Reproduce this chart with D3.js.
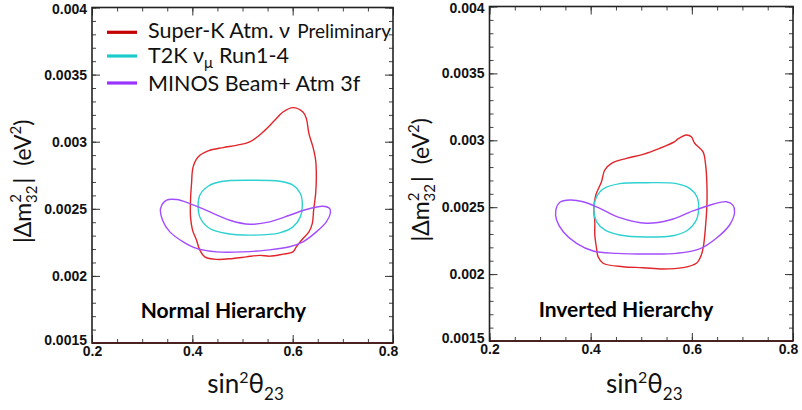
<!DOCTYPE html>
<html>
<head>
<meta charset="utf-8">
<script src="https://cdn.jsdelivr.net/npm/d3@7"></script>
<style>
body { margin: 0; background: #fff; }
</style>
</head>
<body>
<div id="container"></div>
<script>
const width = 802;
const height = 410;

// axis ticks
const xTicks = [0.2, 0.4, 0.6, 0.8];
const yTicks = [0.0015, 0.002, 0.0025, 0.003, 0.0035, 0.004];
const hierarchyLabels = ["Normal Hierarchy", "Inverted Hierarchy"];

// contours, [sin^2 theta23, |dm^2_32|]
const skNormal = [
  [0.6006, 0.003254], [0.6205, 0.003221], [0.6273, 0.003172], [0.6324, 0.00306],
  [0.6404, 0.002961], [0.6458, 0.002862], [0.6472, 0.002737], [0.6458, 0.002614],
  [0.6418, 0.00249], [0.6392, 0.002391], [0.6324, 0.002328], [0.6205, 0.002279],
  [0.6074, 0.002217], [0.6006, 0.002179], [0.5807, 0.002162], [0.5542, 0.002147],
  [0.5343, 0.002153], [0.5079, 0.002142], [0.4812, 0.00213], [0.4482, 0.002123],
  [0.4249, 0.002142], [0.4149, 0.002192], [0.4084, 0.002266], [0.4004, 0.002341],
  [0.3964, 0.00244], [0.3964, 0.002564], [0.3984, 0.002688], [0.4016, 0.002812],
  [0.4115, 0.002886], [0.4314, 0.002931], [0.4613, 0.002956], [0.488, 0.002973],
  [0.5144, 0.002998], [0.5409, 0.003072], [0.5642, 0.003159], [0.5807, 0.003221]
];
const t2kNormal = [
  [0.5144, 0.002713], [0.5741, 0.002705], [0.6006, 0.002676], [0.6153, 0.002614],
  [0.6193, 0.002527], [0.6153, 0.00244], [0.6006, 0.002365], [0.5741, 0.002321],
  [0.521, 0.002304], [0.4681, 0.002316], [0.4348, 0.002353], [0.4163, 0.002428],
  [0.4115, 0.002514], [0.4149, 0.002601], [0.4314, 0.002668], [0.4581, 0.002703]
];
const minosNormal = [
  [0.3367, 0.002502], [0.3487, 0.002564], [0.3686, 0.002569], [0.395, 0.002539],
  [0.4348, 0.002477], [0.4746, 0.002415], [0.5144, 0.002385], [0.5542, 0.002403],
  [0.594, 0.002452], [0.6273, 0.002495], [0.6603, 0.002519], [0.6736, 0.002502],
  [0.675, 0.002465], [0.6671, 0.002403], [0.6472, 0.002328], [0.6205, 0.002254],
  [0.594, 0.002217], [0.5477, 0.002192], [0.5011, 0.002179], [0.4482, 0.002179],
  [0.4084, 0.002205], [0.3817, 0.002254], [0.3552, 0.002328], [0.3407, 0.002415]
];
const skInverted = [
  [0.5892, 0.00304], [0.599, 0.003027], [0.6056, 0.002978], [0.622, 0.002915],
  [0.6273, 0.002815], [0.6298, 0.002666], [0.6298, 0.002516], [0.6273, 0.002367],
  [0.6233, 0.002217], [0.6188, 0.002143], [0.6089, 0.002081], [0.5825, 0.002048],
  [0.543, 0.002038], [0.5035, 0.002048], [0.4641, 0.002055], [0.4246, 0.002081],
  [0.4147, 0.00213], [0.4116, 0.002193], [0.4082, 0.002292], [0.4082, 0.002392],
  [0.4062, 0.002492], [0.4102, 0.002591], [0.4214, 0.002691], [0.4279, 0.002778],
  [0.4412, 0.002828], [0.4708, 0.002865], [0.5035, 0.002895], [0.5365, 0.00294],
  [0.5661, 0.00299], [0.5726, 0.00301]
];
const t2kInverted = [
  [0.5102, 0.002683], [0.5694, 0.002676], [0.5957, 0.002641], [0.6101, 0.002578],
  [0.6135, 0.002492], [0.6089, 0.002404], [0.5923, 0.00233], [0.5627, 0.002287],
  [0.5102, 0.002277], [0.4576, 0.002292], [0.428, 0.00233], [0.4116, 0.002392],
  [0.4062, 0.002479], [0.4102, 0.002566], [0.4246, 0.002636], [0.4576, 0.002676]
];
const minosInverted = [
  [0.3312, 0.002479], [0.3391, 0.002537], [0.3589, 0.002554], [0.3851, 0.002541],
  [0.4181, 0.002492], [0.4576, 0.002422], [0.5102, 0.00238], [0.5562, 0.002404],
  [0.6022, 0.002472], [0.6417, 0.002522], [0.6681, 0.002541], [0.6812, 0.002516],
  [0.6845, 0.002462], [0.6746, 0.002367], [0.6484, 0.002268], [0.6154, 0.002188],
  [0.5694, 0.002155], [0.5168, 0.00215], [0.451, 0.002155], [0.4049, 0.002173],
  [0.3721, 0.00223], [0.3457, 0.002317], [0.3326, 0.002404]
];

const colors = {sk: "#e0262b", t2k: "#2fd0d0", minos: "#a24dff"};
const legendColors = {sk: "#c40000", t2k: "#1ccccc", minos: "#9933ff"};

const panels = [
  {x0: 92, x1: 393, y0: 7.5, y1: 343, label: hierarchyLabels[0],
   series: [["sk", skNormal], ["t2k", t2kNormal], ["minos", minosNormal]]},
  {x0: 489.5, x1: 793, y0: 6.5, y1: 341, label: hierarchyLabels[1],
   series: [["sk", skInverted], ["t2k", t2kInverted], ["minos", minosInverted]]}
];

const svg = d3.select("div#container")
  .append("svg")
  .attr("width", width)
  .attr("height", height)
  .attr("viewBox", [0, 0, width, height]);

const tickFont = "bold 14px 'Liberation Sans', Arial, sans-serif";
const textFont = "Lato, 'Open Sans', sans-serif";

const xMinor = d3.range(0.2, 0.8001, 0.05);
const yMinor = d3.range(0.0015, 0.00401, 0.0001);

panels.forEach((p, i) => {
  const x = d3.scaleLinear().domain([0.2, 0.8]).range([p.x0, p.x1]);
  const y = d3.scaleLinear().domain([0.0015, 0.004]).range([p.y1, p.y0]);
  const g = svg.append("g");

  const axes = [
    [d3.axisBottom(x), `translate(0,${p.y1})`, xTicks, xMinor, true],
    [d3.axisTop(x), `translate(0,${p.y0})`, xTicks, xMinor, false],
    [d3.axisLeft(y), `translate(${p.x0},0)`, yTicks, yMinor, true],
    [d3.axisRight(y), `translate(${p.x1},0)`, yTicks, yMinor, false]
  ];
  axes.forEach(([ax, tr, major, minor, labels]) => {
    g.append("g").attr("transform", tr)
      .call(ax.tickValues(minor).tickSize(-4).tickSizeOuter(0).tickFormat(""))
      .call(s => s.select(".domain").remove())
      .call(s => s.selectAll("line").attr("stroke", "#444"));
    const axG = g.append("g").attr("transform", tr)
      .call(ax.tickValues(major).tickSize(-8).tickSizeOuter(0)
        .tickPadding(labels ? (major === xTicks ? 3 : 5) : 0)
        .tickFormat(labels ? d => String(+d.toPrecision(4)) : ""))
      .call(s => s.select(".domain").remove())
      .call(s => s.selectAll("line").attr("stroke", "#333"));
    axG.selectAll("text").style("font", tickFont).attr("fill", "#111");
    if (labels && major === yTicks) {
      // nudge the end labels so they stay inside and clear of the x labels
      axG.selectAll("text")
        .attr("dy", d => d === 0.0015 ? "0.1em" : d === 0.004 ? "0.42em" : "0.32em");
    }
    if (labels && major === xTicks) {
      axG.selectAll("text").attr("dx", d => d === 0.8 ? -5 : 0);
    }
  });

  g.append("rect")
    .attr("x", p.x0).attr("y", p.y0)
    .attr("width", p.x1 - p.x0).attr("height", p.y1 - p.y0)
    .attr("fill", "none").attr("stroke", "#222").attr("stroke-width", 1.6);
  g.append("line")
    .attr("x1", p.x0).attr("x2", p.x1).attr("y1", p.y1).attr("y2", p.y1)
    .attr("stroke", "#4a1515").attr("stroke-width", 1.6);

  const line = d3.line()
    .x(d => x(d[0])).y(d => y(d[1]))
    .curve(d3.curveCatmullRomClosed.alpha(0.5));

  g.selectAll("path.contour")
    .data(p.series)
    .join("path")
    .attr("class", "contour")
    .attr("d", d => line(d[1]))
    .attr("fill", "none")
    .attr("stroke", d => colors[d[0]])
    .attr("stroke-width", 1.4);

  // hierarchy label
  g.append("text")
    .attr("x", x(0.462) + (i ? 4 : 0)).attr("y", y(0.00169) + (i ? 1 : 0))
    .attr("text-anchor", "middle")
    .style("font", `bold 21px ${textFont}`)
    .text(p.label);

  // x title
  const xt = g.append("text")
    .attr("x", x(0.5) + 3).attr("y", 393)
    .attr("text-anchor", "middle")
    .style("font", `26px ${textFont}`)
    .attr("fill", "#111");
  xt.append("tspan").text("sin");
  xt.append("tspan").attr("dy", -10).style("font-size", "16px").text("2");
  xt.append("tspan").attr("dy", 10).text("θ");
  xt.append("tspan").attr("dy", 7).style("font-size", "17px").text("23");

  // y title
  const cy = (p.y0 + p.y1) / 2 + 6;
  const yt = g.append("text")
    .attr("transform", `translate(${p.x0 - 61},${cy}) rotate(-90)`)
    .attr("text-anchor", "middle")
    .style("font", `23px ${textFont}`)
    .attr("fill", "#111");
  yt.append("tspan").text("|Δm");
  yt.append("tspan").attr("dy", -10).style("font-size", "15px").text("2");
  yt.append("tspan").attr("dx", -9).attr("dy", 16).style("font-size", "15px").text("32");
  yt.append("tspan").attr("dx", 2).attr("dy", -6).text("|");
  yt.append("tspan").attr("dx", 12).text("(eV");
  yt.append("tspan").attr("dy", -10).style("font-size", "15px").text("2");
  yt.append("tspan").attr("dy", 10).text(")");

  // legend on left panel
  if (i === 0) {
    const legendRows = [["sk", 32.3, 38], ["t2k", 56, 63], ["minos", 83, 91]];
    legendRows.forEach(([k, ly, ty]) => {
      g.append("line")
        .attr("x1", 107).attr("x2", 137).attr("y1", ly).attr("y2", ly)
        .attr("stroke", legendColors[k]).attr("stroke-width", 3.2);
      const t = g.append("text").attr("x", 148).attr("y", ty)
        .style("font", `21.5px ${textFont}`).attr("fill", "#111");
      if (k === "sk") {
        t.append("tspan").text("Super-K Atm. ν");
        t.append("tspan").attr("dx", 7).style("font-size", "19px").text("Preliminary");
      } else if (k === "t2k") {
        t.append("tspan").text("T2K ν");
        t.append("tspan").attr("dy", 5).style("font-size", "15px").text("μ");
        t.append("tspan").attr("dx", 6).attr("dy", -5).text("Run1-4");
      } else {
        t.text("MINOS Beam+ Atm 3f");
      }
    });
  }
});
</script>
</body>
</html>
